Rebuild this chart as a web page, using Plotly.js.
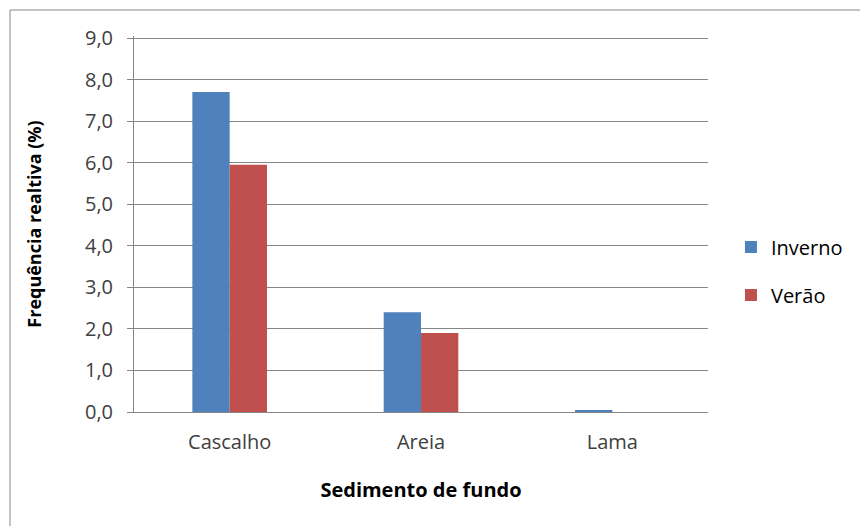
<!DOCTYPE html>
<html>
<head>
<meta charset="utf-8">
<script src="https://cdn.plot.ly/plotly-3.0.1.min.js"></script>
<style>html,body{margin:0;padding:0;background:#fff;}#chart{width:860px;height:526px;}</style>
</head>
<body>
<div id="chart"></div>
<script>
const categories = ["Cascalho", "Areia", "Lama"];
const inverno = [7.7, 2.4, 0.05];
const verao = [5.95, 1.9, 0.0];
const seriesNames = ["Inverno", "Verão"];
const yTickVals = [0, 1, 2, 3, 4, 5, 6, 7, 8, 9];
const yTickText = ["0,0", "1,0", "2,0", "3,0", "4,0", "5,0", "6,0", "7,0", "8,0", "9,0"];

const font = "Open Sans, Noto Sans, sans-serif";
const traces = [
  {type: "bar", name: seriesNames[0], legendgroup: "g1", x: categories, y: inverno, marker: {color: "#4F81BD"}},
  {type: "bar", name: seriesNames[1], legendgroup: "g2", x: categories, y: verao, marker: {color: "#C0504D"}}
];
const H = 526, T = 36, B = 114, PH = H - T - B;
const layout = {
  width: 860, height: H,
  margin: {l: 134, r: 152, t: T, b: B},
  paper_bgcolor: "#fff", plot_bgcolor: "#fff",
  barmode: "group", bargap: 0.61, bargroupgap: 0,
  font: {family: font, color: "#404040", size: 20},
  xaxis: {
    showline: true, linecolor: "#868686", linewidth: 1,
    tickfont: {size: 20, color: "#404040"},
    ticklabelstandoff: 12,
    title: {text: "<b>Sedimento de fundo</b>", font: {size: 20, color: "#000"}, standoff: 28},
    fixedrange: true
  },
  yaxis: {
    range: [0, 9.05], tickvals: yTickVals, ticktext: yTickText,
    showline: true, linecolor: "#868686", linewidth: 1,
    ticks: "outside", ticklen: 6, tickcolor: "#868686",
    ticklabelstandoff: 10,
    gridcolor: "#868686", gridwidth: 1, zeroline: false,
    tickfont: {size: 20, color: "#404040"},
    title: {text: "<b>Frequência realtiva (%)</b>", font: {size: 18, color: "#000"}, standoff: 38}
  },
  legend: {x: 1.04, y: 0.375, xanchor: "left", yanchor: "middle", font: {size: 20, color: "#000"},
           traceorder: "grouped", tracegroupgap: 19, itemwidth: 30},
  showlegend: true,
  shapes: [
    {type: "line", xref: "paper", yref: "paper", x0: -124/574, x1: 1.3, y0: (H-B-10)/PH, y1: (H-B-10)/PH, line: {color: "#868686", width: 1}},
    {type: "line", xref: "paper", yref: "paper", x0: -124/574, x1: -124/574, y0: (H-B-10)/PH, y1: -0.35, line: {color: "#868686", width: 1}}
  ]
};
Plotly.newPlot("chart", traces, layout, {displayModeBar: false, staticPlot: true});
</script>
</body>
</html>
